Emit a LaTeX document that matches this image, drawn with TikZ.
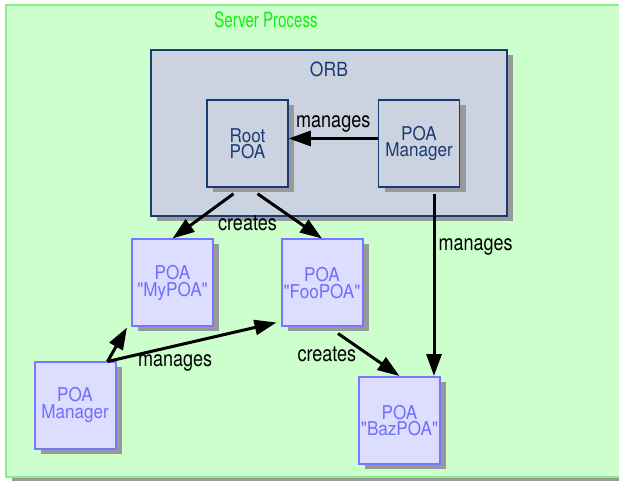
\documentclass[tikz,border=0pt]{standalone}
\usepackage{fontspec}
\setmainfont{TeX Gyre Heros}
\newfontfamily\lblfont[FakeStretch=0.82]{TeX Gyre Heros}
\newfontfamily\boxfont[FakeStretch=0.9]{TeX Gyre Heros}
\newfontfamily\titlefont[FakeStretch=0.72]{TeX Gyre Heros}
\usetikzlibrary{positioning,shadows,arrows.meta}

\definecolor{procfill}{HTML}{CCFFCC}
\definecolor{procline}{HTML}{88EE88}
\definecolor{proctext}{HTML}{11EE11}
\definecolor{orbfill}{HTML}{CBD3E0}
\definecolor{orbline}{HTML}{1A3A73}
\definecolor{poafill}{HTML}{DDDDFF}
\definecolor{poaline}{HTML}{7777FF}
\definecolor{poatext}{HTML}{6E6EFF}
\definecolor{shadowgray}{HTML}{999999}

\tikzset{
  shade box/.style={drop shadow={shadow xshift=6pt,shadow yshift=-5pt,fill=shadowgray,opacity=1}},
  procbox/.style={draw=procline, fill=procfill, line width=2pt, inner sep=0pt, shade box},
  orbbox/.style={draw=orbline, fill=orbfill, line width=1.5pt, text=orbline, inner sep=0pt, shade box},
  innerbox/.style={orbbox, minimum width=81pt, minimum height=87pt, align=center,
    font=\boxfont\fontsize{19}{16.5}\selectfont},
  poabox/.style={draw=poaline, fill=poafill, line width=2pt, text=poatext, inner sep=0pt,
    minimum width=81pt, minimum height=87pt, align=center,
    font=\boxfont\fontsize{19}{16.5}\selectfont, shade box},
  lbl/.style={font=\lblfont\fontsize{22}{22}\selectfont, inner sep=1pt},
  arr/.style={line width=3pt, -{Triangle[length=22pt,width=15pt]}},
}

\begin{document}
\begin{tikzpicture}[x=1pt,y=-1pt]
\useasboundingbox (0,0) rectangle (619,481);

% containers
\node[procbox, minimum width=660pt, minimum height=472pt] (server) at (336,241) {};
\node[text=proctext, font=\titlefont\fontsize{21}{21}\selectfont, inner sep=0pt] (servertitle) at (266,19.5) {Server Process};
\node[orbbox, minimum width=356pt, minimum height=166pt] (orb) at (329,133) {};
\node[text=orbline, font=\boxfont\fontsize{19.5}{19.5}\selectfont, inner sep=0pt, below=12pt of orb.north] (orbtitle) {ORB};

% boxes
\node[innerbox] (root) at (247.5,143.5) {Root\\POA};
\node[innerbox] (orbmgr) at (419,143.5) {POA\\Manager};
\node[poabox] (mypoa) at (172.5,283) {POA\\"MyPOA"};
\node[poabox] (foopoa) at (322,283) {POA\\"FooPOA"};
\node[poabox] (bazpoa) at (399.5,420.5) {POA\\"BazPOA"};
\node[poabox] (poamgr) at (75,405) {POA\\Manager};

% arrows
\draw[arr] ([yshift=5pt]orbmgr.west) -- node[lbl, above=4pt] (managesroot) {manages} ([yshift=5pt]root.east);
\draw[arr] ([xshift=-14pt,yshift=-6pt]root.south) -- (mypoa.north);
\draw[arr] ([xshift=10pt,yshift=-6pt]root.south) -- (foopoa.north);
\node[lbl, below=27pt of root.south] (createsroot) {creates};

\coordinate (mgrdrop) at ([xshift=15pt,yshift=-6pt]orbmgr.south);
\draw[arr] (mgrdrop) -- node[lbl, pos=0.29, right=2pt] (managesbaz) {manages} (mgrdrop |- bazpoa.north);
\draw[arr] ([xshift=16pt,yshift=-6pt]foopoa.south) -- node[lbl, pos=0.5, left=10pt] (createsbaz) {creates} (bazpoa.north);

\coordinate (mgrtop) at ([xshift=-9pt,yshift=-1pt]poamgr.north east);
\draw[arr] (mgrtop) -- ([xshift=-4pt]mypoa.south west);
\draw[arr] (mgrtop) -- node[lbl, pos=0.4, below=6pt] (managesfoo) {manages} ([xshift=-4pt,yshift=5pt]foopoa.south west);
\end{tikzpicture}
\end{document}
